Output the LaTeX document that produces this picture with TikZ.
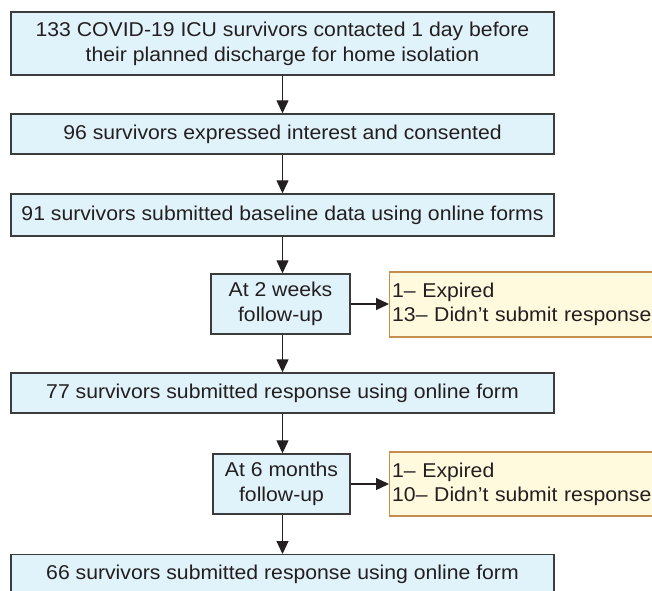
\documentclass[tikz,border=0pt]{standalone}
\usepackage{fontspec}
\setmainfont[FakeStretch=1.06]{Liberation Sans}
\usetikzlibrary{arrows.meta,positioning}
\definecolor{txt}{HTML}{231F20}
\definecolor{bluefill}{HTML}{E1F3FA}
\definecolor{boxline}{HTML}{3C3C3C}
\definecolor{yelfill}{HTML}{FFF9DD}
\definecolor{yelline}{HTML}{C48E4E}
\tikzset{
  bluebox/.style={draw=boxline, fill=bluefill, line width=1.4pt, inner sep=0pt,
    align=center, text=txt, font=\fontsize{20}{25}\selectfont},
  yelbox/.style={draw=yelline, fill=yelfill, line width=1.4pt, inner xsep=2.5pt, inner ysep=0pt,
    align=left, text=txt, text width=300pt, font=\fontsize{20}{24}\selectfont, anchor=west},
  arr/.style={draw=txt, line width=1.2pt, -{Triangle[width=12pt,length=13pt]}}
}
\begin{document}
\begin{tikzpicture}[x=1pt,y=-1pt]
\useasboundingbox (0,0) rectangle (652,590);
\clip (0,0) rectangle (652,590);
\node[bluebox, minimum width=543pt, minimum height=63pt] (b1) at (282.5,43.5)
  {133 COVID-19 ICU survivors contacted 1 day before\\their planned discharge for home isolation};
\node[bluebox, minimum width=543pt, minimum height=40pt] (b2) at (282.5,134)
  {96 survivors expressed interest and consented};
\node[bluebox, minimum width=543pt, minimum height=42pt] (b3) at (282.5,215)
  {91 survivors submitted baseline data using online forms};
\node[bluebox, minimum width=139pt, minimum height=60pt] (b4) at (280.5,304)
  {At 2 weeks\\follow-up};
\node[yelbox, minimum height=65pt] (y1) at (389,304.5)
  {1-- Expired\\13-- Didn’t submit response};
\node[bluebox, minimum width=543pt, minimum height=40pt] (b5) at (282.5,393)
  {77 survivors submitted response using online form};
\node[bluebox, minimum width=137pt, minimum height=60pt] (b6) at (281.5,484)
  {At 6 months\\follow-up};
\node[yelbox, minimum height=64pt] (y2) at (389,484)
  {1-- Expired\\10-- Didn’t submit response};
\node[bluebox, minimum width=543pt, minimum height=40pt, anchor=north] (b7) at (282.5,554)
  {66 survivors submitted response using online form};
\draw[arr] (b1.south) -- (b2.north);
\draw[arr] (b2.south) -- (b3.north);
\draw[arr] (b3.south) -- (b4.north -| b3.south);
\draw[arr] (b4.south -| b5.north) -- (b5.north);
\draw[arr] (b5.south) -- (b6.north -| b5.south);
\draw[arr] (b6.south -| b7.north) -- (b7.north);
\draw[arr] (b4.east) -- (y1.west |- b4.east);
\draw[arr] (b6.east) -- (y2.west |- b6.east);
\end{tikzpicture}
\end{document}
